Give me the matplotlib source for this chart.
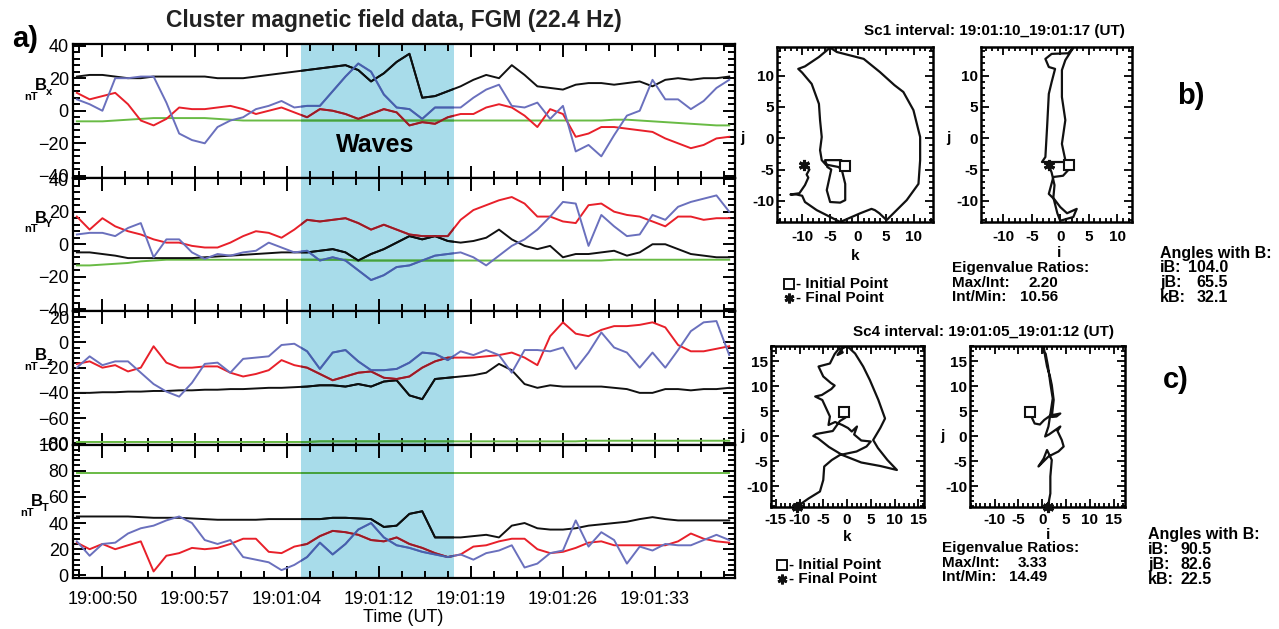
#!/usr/bin/env python3

import numpy as np
import matplotlib
matplotlib.use("Agg")
import matplotlib.pyplot as plt
from matplotlib.colors import to_rgb
from matplotlib.lines import Line2D
from matplotlib.patches import Rectangle
from matplotlib.ticker import FixedLocator, MultipleLocator

plt.rcParams['font.family'] = ['Liberation Sans', 'DejaVu Sans']

FIG_W = 1279
FIG_H = 629
OUTPUT_FILE = "out.png"

# time in seconds after 19:00:00 UT
SECONDS = np.arange(48, 100)
TIME_TICKS = [50, 57.2, 64.4, 71.6, 78.8, 86.0, 93.2]
TIME_LABELS = ["19:00:50", "19:00:57", "19:01:04", "19:01:12", "19:01:19", "19:01:26", "19:01:33"]
WAVES_START = 65.5
WAVES_END = 77.5

BX_BLACK = [21, 22, 22, 21, 20, 20, 21, 21, 21, 21,
            21, 20, 20, 20, 21, 22, 23, 24, 25, 26,
            27, 28, 25, 18, 23, 30, 35, 8, 9, 12,
            15, 19, 22, 20, 28, 22, 15, 14, 13, 16,
            17, 17, 16, 17, 18, 15, 19, 20, 19, 20,
            20, 21]
BX_RED = [11, 7, 9, 11, 4, -6, -9, -5, 2, 1,
          1, 2, 3, 1, -2, 0, 2, -1, -4, 1,
          0, -2, -5, -2, 1, -1, -9, -7, -8, -4,
          -2, -2, 2, 4, 2, -3, -10, 1, -2, -16,
          -14, -10, -10, -11, -12, -13, -17, -20, -23, -21,
          -17, -16]
BX_BLUE = [7, 4, 0, 20, 20, 21, 21, 5, -14, -18,
           -20, -10, -6, -4, 1, 3, 6, 2, 3, 3,
           12, 21, 29, 24, 10, 2, 1, -5, 2, 2,
           2, 8, 13, 16, 3, 2, 5, -5, 3, -25,
           -21, -28, -15, -3, 0, 19, 7, 7, 1, 6,
           14, 19]
BX_GREEN = [-6.5, -6.5, -6.5, -6, -5.5, -5, -4.5, -4.5, -4.5, -4.5,
            -4.5, -5, -5.5, -6, -6, -6, -6, -6, -6, -6,
            -6, -6, -6, -6, -6, -6, -6, -6, -6, -6,
            -6, -6, -6, -6, -6, -6, -6, -6, -6, -6,
            -6, -6, -5.5, -5.5, -6, -6.5, -7, -7.5, -8, -8.5,
            -9, -9]

BY_BLACK = [-5, -5, -6, -7, -8.5, -8.5, -8.5, -8.5, -8.5, -8.5,
            -8, -7.5, -7, -6.5, -6, -5.5, -5, -5, -5, -4,
            -3, -5, -10, -6, -3, 1, 5, 3, 5, 2,
            1, 2, 4, 9, 3, -1, -3, -1, -8, -6,
            -6, -5, -4, -7, -5, 0, 0, -3, -6, -7,
            -8, -8]
BY_RED = [17, 9, 16, 11, 8, 6, 3, 1, 1, -1,
          -2, -2, 1, 5, 8, 7, 4, 9, 15, 14,
          15, 16, 13, 9, 12, 9, 6, 5, 5, 5,
          15, 21, 24, 27, 29, 25, 17, 17, 14, 13,
          24, 25, 20, 18, 17, 14, 11, 17, 17, 15,
          16, 16]
BY_BLUE = [6, 7, 7, 5, 10, 13, -8, 3, 3, -5,
           -9, -6, -7, -5, -4, 1, -2, -5, -4, -10,
           -8, -10, -16, -22, -19, -14, -13, -10, -7, -6,
           -5, -8, -13, -7, -1, 3, 9, 17, 26, 25,
           -1, 18, 11, 5, 6, 18, 15, 23, 26, 28,
           30, 20]
BY_GREEN = [-13, -13, -12.5, -12, -11.5, -10.5, -10, -9.5, -9.5, -9.5,
            -9.5, -9.5, -9.5, -9.5, -9.5, -9.5, -9.5, -9.5, -9.5, -9.5,
            -9.5, -9.5, -10, -10, -10, -10, -10, -10, -10, -10,
            -10, -10, -10, -10, -10, -10, -10, -10, -10, -10,
            -10, -10, -9.5, -9.5, -9.5, -9.5, -9.5, -9.5, -9.5, -9.5,
            -9.5, -9.5]

BZ_BLACK = [-40, -40, -39.5, -39.5, -39, -39, -38.5, -38.5, -38, -38,
            -37.5, -37.5, -37, -37, -36.5, -36, -36, -35.5, -35, -34,
            -34, -35, -33, -35, -31, -30, -42, -45, -29, -28,
            -27, -26, -24, -17, -22, -33, -36, -34, -35, -35,
            -35, -35, -36, -37, -40, -40, -37, -37, -38, -37,
            -37, -36]
BZ_RED = [-17, -15, -20, -18, -23, -20, -3, -16, -20, -20,
          -19, -19, -24, -27, -25, -22, -14, -18, -20, -25,
          -30, -27, -24, -23, -28, -29, -27, -20, -15, -12,
          -12, -12, -11, -10, -8, -12, -18, 5, 16, 7,
          5, 10, 13, 13, 14, 16, 12, -2, -7, -7,
          -5, -3]
BZ_BLUE = [-20, -11, -18, -15, -15, -24, -33, -39, -43, -32,
           -17, -16, -24, -13, -12, -11, -2, -1, -7, -21,
           -8, -6, -15, -22, -22, -21, -16, -8, -9, -14,
           -7, -10, -6, -10, -24, -6, -6, -7, -4, -21,
           -8, 8, -4, -8, -20, -8, -20, -6, 9, 16,
           17, -10]
BZ_GREEN = [-79, -79, -79, -79, -79, -79, -79, -79, -79, -79,
            -79, -79, -79, -79, -79, -79, -79, -79, -79, -78.5,
            -78.5, -78.5, -78.5, -78.5, -78.5, -78.5, -78.5, -78.5, -78.5, -78.5,
            -78.5, -78.5, -78.5, -78.5, -78.5, -78.5, -78.5, -78.5, -78.5, -78.5,
            -78, -78, -78, -78, -78, -78, -78, -78, -78, -78,
            -78, -78]

BT_BLACK = [45, 45, 45, 45, 45, 44.5, 44, 44, 44, 43.5,
            43, 42.5, 42.5, 42.5, 42.5, 43, 43, 43, 43, 43,
            44, 44, 43.5, 43, 37, 38, 47, 49, 29, 29,
            29, 30, 31, 29, 38, 40, 36, 35, 35, 36,
            38, 39, 40, 41, 43, 44.5, 43, 42, 42, 42,
            42, 42]
BT_RED = [25, 20, 24, 20, 23, 26, 3, 15, 17, 21,
          20, 21, 24, 28, 28, 18, 17, 22, 24, 30,
          34, 33, 31, 27, 26, 29, 24, 21, 17, 14,
          16, 22, 23, 26, 28, 28, 20, 17, 18, 21,
          25, 26, 23, 23, 23, 23, 23, 26, 32, 28,
          26, 25]
BT_BLUE = [26, 15, 24, 25, 32, 36, 38, 42, 45, 40,
           27, 24, 27, 14, 12, 10, 4, 8, 14, 25,
           16, 24, 35, 40, 29, 23, 21, 18, 16, 14,
           16, 12, 17, 19, 23, 6, 9, 17, 19, 42,
           22, 33, 27, 9, 22, 19, 24, 23, 23, 27,
           31, 27]
BT_GREEN = [78, 78, 78, 78, 78, 78, 78, 78, 78, 78,
            78, 78, 78, 78, 78, 78, 78, 78, 78, 78,
            78, 78, 78, 78, 78, 78, 78, 78, 78, 78,
            78, 78, 78, 78, 78, 78, 78, 78, 78, 78,
            78, 78, 78, 78, 78, 78, 78, 78, 78, 78,
            78, 78]

# hodograms, first point = initial, last point = final
SC1_K = [-2.4, -3.0, -5.9, -5.5, -4.8, -5.6, -5.0, -3.2, -2.3, -2.3, -2.9, -3.5, -5.8, -6.5, -6.8,
         -6.5, -6.8, -7.0, -8.3, -10.0, -10.7, -9.5, -7.0, -5.0, -3.8, 1.0, 3.9, 6.5, 8.1, 9.9,
         11.1, 11.1, 10.8, 8.7, 5.1, 3.8, 3.0, 2.4, 0.4, -3.2, -7.4, -9.5, -10.0, -11.0, -12.1,
         -10.5, -9.5, -8.9, -9.2, -8.7, -9.6]
SC1_KJ = [-4.4, -3.5, -3.5, -4.6, -5.0, -8.3, -10.2, -10.3, -9.9, -7.3, -5.1, -4.6, -4.2, -3.5, -1.9,
          0.2, 2.9, 5.5, 8.7, 10.5, 11.1, 11.5, 13.0, 14.5, 13.8, 12.7, 10.6, 8.5, 7.4, 4.5,
          0.2, -3.5, -7.3, -9.9, -13.1, -12.0, -11.5, -11.3, -12.0, -13.4, -11.5, -10.2, -9.2, -9.0, -9.0,
          -8.8, -7.5, -6.3, -5.8, -5.0, -4.3]
SC1_I = [1.5, 0.9, 0.3, 0.9, 0.3, 0.3, 0.9, 2.3, 1.4, -1.5, -2.6, -2.0, -0.9, -1.5, -2.0, -2.3, -2.6,
         -3.2, 1.8, 1.5, 0.5, -1.2, -2.0, -1.0, 0.0, 1.2, 2.9, 2.3, 0.0, -0.5, -1.2, -1.0, -1.5, -2.0]
SC1_IJ = [-4.3, -3.5, -0.9, 2.9, 6.6, 10.9, 12.5, 14.5, 13.6, 13.5, 12.7, 11.4, 11.1, 9.0, 7.1, 1.8, -3.0,
          -3.8, -3.8, -5.0, -6.0, -6.2, -8.9, -9.8, -11.0, -12.0, -11.3, -12.6, -13.2, -12.0, -9.5, -7.5, -5.5, -4.3]

SC4_K = [-0.6, -0.3, -1.5, -3.0, -6.5, -7.1, -6.2, -3.8, -1.0, 3.0, 7.0, 10.5, 8.5, 6.5, 5.5, 7.0, 8.0,
         6.6, 4.8, 3.4, 1.7, 0.0, -1.0, -2.0, -0.9, -1.6, -2.6, -3.6, -6.0, -5.0, -3.4, -2.6, -3.3,
         -5.3, -6.7, -5.2, -3.6, -3.9, -2.5, -1.0, 0.2, 1.0, 2.1, 1.5, 3.0, 5.0, 4.1, 2.0, -1.5,
         -3.2, -4.8, -5.0, -5.7, -8.1, -10.5]
SC4_KJ = [4.9, 3.7, 3.0, 1.0, 0.4, 0.0, -0.4, -2.2, -3.8, -5.3, -6.0, -6.8, -4.8, -2.4, -0.8, 1.6, 3.5,
          7.2, 11.2, 13.9, 16.5, 18.0, 17.5, 16.2, 16.7, 17.6, 16.4, 14.5, 13.9, 11.9, 10.6, 10.1, 9.4,
          8.2, 7.9, 7.2, 3.9, 2.2, 2.8, 2.2, 1.6, 0.9, 1.9, 0.3, -0.9, -1.1, -2.1, -3.1, -3.8,
          -4.8, -6.1, -8.8, -11.1, -12.5, -14.1]
SC4_I = [-2.5, -2.2, -1.6, -0.5, 0.4, 1.7, 3.8, 3.0, 2.0, 2.4, 2.0, 1.6, 1.0, 0.6, 0.3, 0.0, 0.7, 1.2,
         1.7, 2.2, 1.8, 1.3, 0.6, 1.4, 3.8, 3.2, 4.1, 4.5, 3.4, 1.3, -0.8, 0.3, 1.0, 2.0, 1.7, 1.7, 1.4, 1.3]
SC4_IJ = [4.9, 3.7, 2.5, 2.3, 3.2, 4.1, 4.5, 3.9, 3.8, 7.2, 10.2, 12.0, 13.9, 16.0, 17.9, 17.0, 16.5, 14.0,
          10.5, 7.5, 5.0, 1.9, -0.1, 0.3, 1.9, 1.0, -0.8, -2.1, -3.1, -4.1, -6.1, -4.5, -2.8, -4.8, -8.1,
          -11.5, -13.0, -14.1]

SC1_RATIOS = ["2.20", "10.56"]
SC4_RATIOS = ["3.33", "14.49"]
SC1_ANGLES = ["104.0", "65.5", "32.1"]
SC4_ANGLES = ["90.5", "82.6", "22.5"]

COLOR_BLACK = "#111111"
COLOR_RED = "#e8202a"
COLOR_BLUE = "#6a70bd"
COLOR_GREEN = "#69bb45"
COLOR_SHADE = "#a8dcea"
LINE_WIDTH = 1.4


def px(x, y):
    return x / FIG_W, 1 - y / FIG_H


def fig_text(fig, x, y, s, **kwargs):
    fig.text(*px(x, y), s, **kwargs)


def add_axes_px(fig, left, top, right, bottom):
    return fig.add_axes([left / FIG_W, 1 - bottom / FIG_H, (right - left) / FIG_W, (bottom - top) / FIG_H])


def shaded(color):
    return tuple(a * b for a, b in zip(to_rgb(color), to_rgb(COLOR_SHADE)))


def draw_series(ax, values, color):
    ax.plot(SECONDS, values, color=color, lw=LINE_WIDTH, zorder=3)
    # the lines look darker under the cyan band, like a multiplied overlay
    inside, = ax.plot(SECONDS, values, color=shaded(color), lw=LINE_WIDTH, zorder=4)
    clip = Rectangle((WAVES_START, 0), WAVES_END - WAVES_START, 1, transform=ax.get_xaxis_transform())
    inside.set_clip_path(clip)


def draw_time_panels(fig):
    panels = [
        ("x", (-41, 41), [-40, -20, 0, 20, 40], [BX_GREEN, BX_BLACK, BX_RED, BX_BLUE], (41, 86)),
        ("Y", (-41, 41), [-40, -20, 0, 20, 40], [BY_GREEN, BY_BLACK, BY_RED, BY_BLUE], (41, 218)),
        ("z", (-81, 25), [-80, -60, -40, -20, 0, 20], [BZ_GREEN, BZ_BLACK, BZ_RED, BZ_BLUE], (41, 356)),
        ("T", (-2, 100), [0, 20, 40, 60, 80, 100], [BT_GREEN, BT_BLACK, BT_RED, BT_BLUE], (37, 502)),
    ]
    colors = [COLOR_GREEN, COLOR_BLACK, COLOR_RED, COLOR_BLUE]
    top, bottom, left, right = 44, 578, 73, 735
    step = (bottom - top) / len(panels)

    axes = []
    for n, (sub, ylim, yticks, series, label_pos) in enumerate(panels):
        ax = add_axes_px(fig, left, top + n * step, right, top + (n + 1) * step)
        ax.axvspan(WAVES_START, WAVES_END, color=COLOR_SHADE, lw=0, zorder=0)
        for values, color in zip(series, colors):
            draw_series(ax, values, color)

        ax.set_xlim(47.7, 99.45)
        ax.set_ylim(*ylim)
        ax.xaxis.set_major_locator(FixedLocator(TIME_TICKS))
        ax.xaxis.set_minor_locator(FixedLocator(np.arange(48.2, 100, 1.8)))
        ax.yaxis.set_major_locator(FixedLocator(yticks))
        ax.yaxis.set_minor_locator(MultipleLocator(4))
        ax.tick_params(which='both', direction='in', top=True, right=True, width=1.4)
        ax.tick_params(which='major', length=9)
        ax.tick_params(which='minor', length=5)
        ax.tick_params(axis='y', labelsize=13, pad=3)
        ax.tick_params(axis='x', labelsize=13, pad=9)
        for spine in ax.spines.values():
            spine.set_linewidth(1.6)

        if n == len(panels) - 1:
            ax.set_xticklabels(TIME_LABELS)
        else:
            ax.set_xticklabels([])

        bx, by = label_pos
        fig_text(fig, bx, by, "B", fontsize=12, fontweight='bold', ha='center', va='center')
        fig_text(fig, bx + 8, by + 6, sub, fontsize=8, fontweight='bold', ha='center', va='center')
        fig_text(fig, bx - 10, by + 11, "nT", fontsize=8, fontweight='bold', ha='center', va='center')
        axes.append(ax)

    axes[0].text(71.3, -21, "Waves", fontsize=18, fontweight='bold', ha='center', va='center', zorder=5)
    fig_text(fig, 403, 618, "Time (UT)", fontsize=13, ha='center', va='center')


def draw_hodogram(fig, box, xs, ys, xlim, ylim, xticks, yticks, xpad):
    ax = add_axes_px(fig, *box)
    ax.plot(xs, ys, color=COLOR_BLACK, lw=1.6)
    ax.plot(xs[0], ys[0], marker='s', ms=7, mfc='white', mec=COLOR_BLACK, mew=1.5, clip_on=False, zorder=5)
    ax.plot(xs[-1], ys[-1], marker=(6, 2, 0), ms=8, mec=COLOR_BLACK, mew=2.2, clip_on=False, zorder=5)
    ax.set_xlim(*xlim)
    ax.set_ylim(*ylim)
    ax.xaxis.set_major_locator(FixedLocator(xticks))
    ax.yaxis.set_major_locator(FixedLocator(yticks))
    ax.set_xticklabels([str(v) for v in xticks], fontweight='bold')
    ax.set_yticklabels([str(v) for v in yticks], fontweight='bold')
    ax.xaxis.set_minor_locator(MultipleLocator(1))
    ax.yaxis.set_minor_locator(MultipleLocator(1))
    ax.tick_params(which='both', direction='in', top=True, right=True, width=1.3, labelsize=11)
    ax.tick_params(which='major', length=6)
    ax.tick_params(which='minor', length=3)
    ax.tick_params(axis='y', pad=2)
    ax.tick_params(axis='x', pad=xpad)
    for spine in ax.spines.values():
        spine.set_linewidth(1.8)
    return ax


def add_marker(fig, x, y, **kwargs):
    fig.add_artist(Line2D([x / FIG_W], [1 - y / FIG_H], transform=fig.transFigure, color=COLOR_BLACK, **kwargs))


def draw_info_block(fig, title_pos, title, legend_x, legend_y, ratio_x, ratio_right, ratio_y, ratios,
                    angle_x, angle_right, angle_y, angles):
    bold = dict(fontsize=11, fontweight='bold', va='center')
    fig_text(fig, *title_pos, title, ha='center', **bold)

    add_marker(fig, legend_x, legend_y, marker='s', ms=7, mfc='white', mew=1.4)
    add_marker(fig, legend_x, legend_y + 14, marker=(6, 2, 0), ms=7, mew=2.0)
    fig_text(fig, legend_x + 7, legend_y, "- Initial Point", ha='left', **bold)
    fig_text(fig, legend_x + 7, legend_y + 14, "- Final Point", ha='left', **bold)

    fig_text(fig, ratio_x, ratio_y, "Eigenvalue Ratios:", ha='left', **bold)
    for n, (name, value) in enumerate(zip(["Max/Int:", "Int/Min:"], ratios)):
        fig_text(fig, ratio_x, ratio_y + 15 + 14 * n, name, ha='left', **bold)
        fig_text(fig, ratio_right, ratio_y + 15 + 14 * n, value, ha='right', **bold)

    big = dict(bold, fontsize=11.5)
    fig_text(fig, angle_x, angle_y, "Angles with B:", ha='left', **big)
    for n, (name, value) in enumerate(zip(["iB:", "jB:", "kB:"], angles)):
        fig_text(fig, angle_x, angle_y + 15 + 14.5 * n, name, ha='left', **big)
        fig_text(fig, angle_right, angle_y + 15 + 14.5 * n, value, ha='right', **big)


def draw_hodograms(fig):
    ticks10 = [-10, -5, 0, 5, 10]
    ticks15 = [-10, -5, 0, 5, 10, 15]
    draw_hodogram(fig, (777, 47, 933, 222), SC1_K, SC1_KJ, (-14.5, 13.4), (-13.4, 14.6), ticks10, ticks10, 6)
    draw_hodogram(fig, (981, 47, 1132, 222), SC1_I, SC1_IJ, (-13.9, 12.6), (-13.4, 14.6), ticks10, ticks10, 6)
    draw_hodogram(fig, (771, 346, 924, 507), SC4_K, SC4_KJ, (-16.0, 16.2), (-14.2, 18.0),
                  [-15, -10, -5, 0, 5, 10, 15], ticks15, 4)
    draw_hodogram(fig, (970, 346, 1125, 507), SC4_I, SC4_IJ, (-15.2, 17.4), (-14.2, 18.0),
                  ticks15, ticks15, 4)

    axis_font = dict(fontsize=11, fontweight='bold', ha='center', va='center')
    for x, y, s in [(855, 256, "k"), (1059, 253, "i"), (742, 138, "j"), (948, 138, "j"),
                    (847, 537, "k"), (1048, 535, "i"), (742, 436, "j"), (942, 436, "j")]:
        fig_text(fig, x, y, s, **axis_font)

    draw_info_block(fig, (994, 31), "Sc1 interval: 19:01:10_19:01:17 (UT)", 789, 284,
                    952, 1058, 268, SC1_RATIOS, 1160, 1228, 253, SC1_ANGLES)
    draw_info_block(fig, (984, 332), "Sc4 interval: 19:01:05_19:01:12 (UT)", 782, 565,
                    942, 1047, 548, SC4_RATIOS, 1148, 1212, 535, SC4_ANGLES)


def main():
    fig = plt.figure(figsize=(FIG_W / 100, FIG_H / 100), dpi=100)

    draw_time_panels(fig)
    draw_hodograms(fig)

    fig_text(fig, 394, 21, "Cluster magnetic field data, FGM (22.4 Hz)", fontsize=16.5,
             fontweight='bold', color='#222222', ha='center', va='center')
    panel_font = dict(fontsize=21, fontweight='bold', ha='center', va='center')
    fig_text(fig, 25, 39, "a)", **panel_font)
    fig_text(fig, 1191, 96, "b)", **panel_font)
    fig_text(fig, 1176, 380, "c)", **panel_font)

    fig.savefig(OUTPUT_FILE, dpi=100)
    plt.close(fig)


if __name__ == "__main__":
    main()
